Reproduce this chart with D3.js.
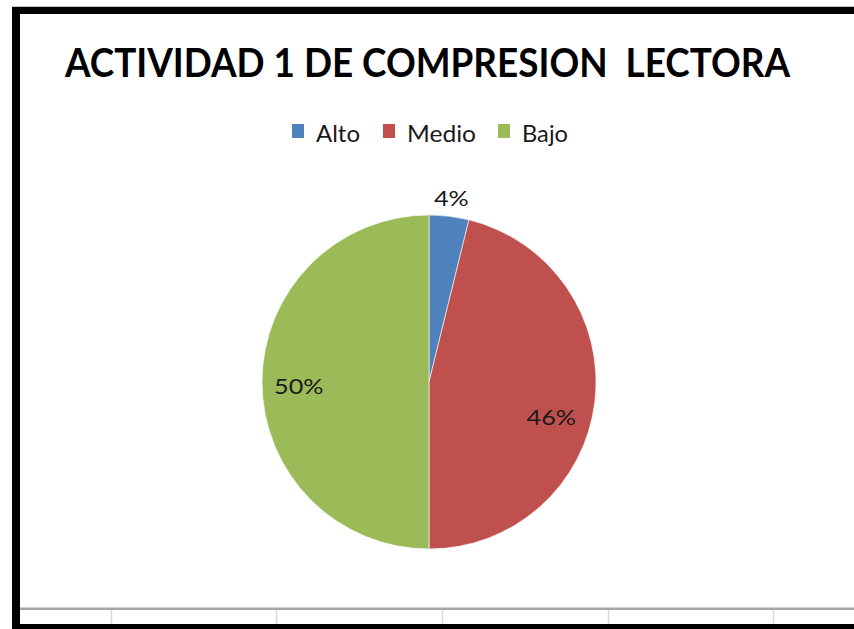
<!DOCTYPE html>
<html>
<head>
<meta charset="utf-8">
<script src="https://cdn.jsdelivr.net/npm/d3@7"></script>
<style>
  html, body { margin: 0; padding: 0; background: #fff; }
  svg { display: block; font-family: Lato, "Open Sans", sans-serif; }
  text { white-space: pre; }
</style>
</head>
<body>
<svg id="chart" width="854" height="629"></svg>
<script>
"use strict";
const title = "ACTIVIDAD 1 DE COMPRESION  LECTORA";
const categories = ["Alto", "Medio", "Bajo"];
const counts = [1, 12, 13];
const colors = ["#4f81bd", "#c0504d", "#9bbb59"];
const gridCols = [111, 276, 442, 608, 773];

const W = 854, H = 629;
const svg = d3.select("#chart");

// frame of the chart object pasted on a sheet
svg.append("line").attr("x1", 12).attr("x2", W).attr("y1", 6.5).attr("y2", 6.5)
  .attr("stroke", "#c8c8c8").attr("stroke-width", 1);
svg.append("rect").attr("x", 12).attr("y", 7).attr("width", W - 12).attr("height", 7).attr("fill", "#000");
svg.append("rect").attr("x", 12).attr("y", 7).attr("width", 8).attr("height", H - 7).attr("fill", "#000");
svg.append("rect").attr("x", 12).attr("y", 624).attr("width", W - 12).attr("height", 5).attr("fill", "#000");

// spreadsheet cells under the chart
svg.append("rect").attr("x", 20).attr("y", 607.5).attr("width", W - 20).attr("height", 2.5).attr("fill", "#a6a6a6");
svg.selectAll("line.cell").data(gridCols).join("line").attr("class", "cell")
  .attr("x1", d => d + 0.5).attr("x2", d => d + 0.5).attr("y1", 610).attr("y2", 624)
  .attr("stroke", "#d9d9d9").attr("stroke-width", 1.5);

// title
svg.append("text").attr("x", 65).attr("y", 77).attr("font-size", 40).attr("font-weight", "bold")
  .attr("fill", "#000").attr("textLength", 725).attr("lengthAdjust", "spacingAndGlyphs").text(title);

// legend
const legendX = [292, 383, 498];
const legendW = [44, 69, 46];
const legend = svg.append("g").selectAll("g").data(categories).join("g")
  .attr("transform", (d, i) => `translate(${legendX[i]},0)`);
legend.append("rect").attr("x", 0).attr("y", 124).attr("width", 12).attr("height", 14)
  .attr("fill", (d, i) => colors[i]);
legend.append("text").attr("x", 24).attr("y", 142).attr("font-size", 23).attr("fill", "#1a1a1a")
  .attr("textLength", (d, i) => legendW[i]).attr("lengthAdjust", "spacingAndGlyphs").text(d => d);

// pie
const cx = 429, cy = 382, r = 167;
const total = d3.sum(counts);
const pie = d3.pie().sort(null).value(d => d);
const arcs = pie(counts);
const arc = d3.arc().innerRadius(0).outerRadius(r);
const inLabel = d3.arc().innerRadius(r * 0.78).outerRadius(r * 0.78);
const outLabel = d3.arc().innerRadius(r + 18).outerRadius(r + 18);
// excel "best fit" drops some labels a bit lower than the centroid
const labelDrop = [0, 20, 4];

const g = svg.append("g").attr("transform", `translate(${cx},${cy})`);
g.selectAll("path").data(arcs).join("path")
  .attr("d", arc).attr("fill", (d, i) => colors[i])
  .attr("stroke", "#fff").attr("stroke-width", 0.6);

const fmt = d3.format(".0%");
g.selectAll("text").data(arcs).join("text")
  .attr("transform", (d, i) => {
    const p = (d.data / total < 0.1 ? outLabel : inLabel).centroid(d);
    return `translate(${p[0] - (i === 1 ? 7 : 0)},${p[1] + labelDrop[i]})`;
  })
  .attr("text-anchor", "middle").attr("dy", "0.36em")
  .attr("font-size", 21).attr("fill", "#1a1a1a")
  .text(d => fmt(d.data / total))
  .each(function(){
    // the picture is a little wide, stretch glyphs to match
    const len = this.getComputedTextLength();
    d3.select(this).attr("textLength", len * 1.2).attr("lengthAdjust", "spacingAndGlyphs");
  });
</script>
</body>
</html>
